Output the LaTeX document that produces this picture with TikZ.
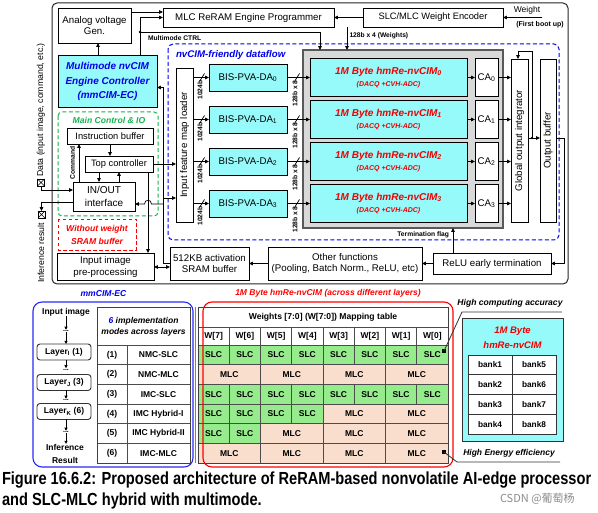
\documentclass[tikz,border=0pt]{standalone}
\usepackage{fontspec}
\setmainfont{Liberation Sans}
\newfontfamily\capfont[FakeStretch=0.835]{Liberation Sans}
\newfontfamily\wmfont{Noto Sans CJK SC}
\usetikzlibrary{arrows.meta,calc}
\newcommand\fsz[2]{\fontsize{#1}{#2}\selectfont}
\newcommand\busmark[1]{\draw[line width=0.7pt] ($(#1)+(-2.5,4)$) -- ($(#1)+(2.5,-4)$);}
\definecolor{cimcyan}{RGB}{150,250,250}
\definecolor{cimred}{RGB}{240,0,0}
\definecolor{dblue}{RGB}{0,0,235}
\definecolor{bblue}{RGB}{40,40,250}
\definecolor{dgreen}{RGB}{20,180,80}
\definecolor{gbox}{RGB}{217,217,217}
\definecolor{slcg}{RGB}{150,235,140}
\definecolor{mlcp}{RGB}{250,222,205}
\newcommand\tabcell[5]{%
 \pgfmathsetmacro\xa{198+31.25*#2}%
 \pgfmathsetmacro\xb{198+31.25*(#2+#3)}%
 \pgfmathsetmacro\ya{345+19.667*(#1-1)}%
 \pgfmathsetmacro\yb{345+19.667*#1}%
 \draw[cellline,fill=#4] (\xa,\ya) rectangle (\xb,\yb);
 \node[tt] (c#1-#2) at ({(\xa+\xb)/2},{(\ya+\yb)/2}) {#5};}
\newcommand\tslc[2]{\tabcell{#1}{#2}{1}{slcg}{SLC}}
\newcommand\tmlc[2]{\tabcell{#1}{#2}{2}{mlcp}{MLC}}
\begin{document}
\begin{tikzpicture}[x=1pt,y=-1pt,
 every node/.style={inner sep=0pt,outer sep=0pt},
 bx/.style={draw=black,line width=0.8pt,fill=white,align=center,font=\fsz{9.7}{11.5}},
 cybx/.style={bx,fill=cimcyan},
 arr/.style={line width=0.7pt,-{Triangle[length=3.8pt,width=3.4pt]}},
 arrs/.style={line width=0.8pt,-{Triangle[length=3pt,width=3pt]}},
 darr/.style={line width=0.7pt,{Triangle[length=3.8pt,width=3.4pt]}-{Triangle[length=3.8pt,width=3.4pt]}},
 lbl/.style={font=\bfseries\fsz{6.7}{7.5}},
 tt/.style={font=\bfseries\fsz{8.5}{10}},
 cellline/.style={draw=black!70,line width=0.6pt},
 rotl/.style={rotate=90,font=\fsz{9.7}{11}},
 lay/.style={draw=black!80,line width=0.9pt,rounded corners=3pt,fill=white,minimum width=54,minimum height=16,font=\bfseries\fsz{8.5}{10}},
 dts/.style={font=\bfseries\fsz{7}{8},text height=1.5pt,text depth=0pt,inner sep=0.5pt},
 xbox/.style={draw,line width=0.7pt,minimum size=7,fill=white},
]
\useasboundingbox (0,0) rectangle (598,513);
\fill[white] (0,0) rectangle (598,513);

% outer frame
\draw[line width=1pt,black!85,rounded corners=5pt] (52,3) rectangle (568,284);

% top row
\node[bx,minimum width=73,minimum height=35] (avg) at (94.5,25.5) {Analog voltage\\Gen.};
\node[bx,minimum width=171,minimum height=19] (prog) at (248.5,17.5) {MLC ReRAM Engine Programmer};
\node[bx,minimum width=140,minimum height=19,font=\fsz{9.3}{11}] (enc) at (433,17.5) {SLC/MLC Weight Encoder};
\node[font=\fsz{8.5}{10}] (wt) at (527,10) {Weight};
\node[lbl,font=\bfseries\fsz{7}{8}] (fbu) at (540,24.5) {(First boot up)};
\coordinate (win) at (542,17.5);
\draw[arr] (win) -- (enc.east);
\draw[arr] (enc.west) -- (prog.east);

% controller
\node[cybx,minimum width=99,minimum height=52,text=dblue,font=\bfseries\itshape\fsz{10}{14.5}] (ctrl) at (107.5,81.5) {Multimode nvCIM\\Engine Controller\\(mmCIM-EC)};
\coordinate (c1) at ($(ctrl.north)+(-9.5,0)$);
\draw[arr] (c1) -- (c1 |- avg.south);
\coordinate (c2) at ($(avg.north east)+(0,4)$);
\draw[arr] (c2) -- (c2 -| prog.west);

% nvCIM dataflow region
\draw[dblue,line width=1pt,dash pattern=on 4pt off 2.5pt,rounded corners=5pt] (168,44) rectangle (559,240);
\node[anchor=west,text=dblue,font=\bfseries\itshape\fsz{9.7}{11}] (nvl) at (176,54.5) {nvCIM-friendly dataflow};

\node[bx,minimum width=17,minimum height=154] (loader) at (184.5,145) {};
\node[rotl] (loadert) at (loader.center) {Input feature map loader};

\node[draw=black!65,line width=1.4pt,fill=gbox,minimum width=200,minimum height=178] (gray) at (403,139) {};

\node[bx,minimum width=17,minimum height=163] (integ) at (519.5,140.5) {};
\node[rotl] (integt) at (integ.center) {Global output integrator};
\node[bx,minimum width=16,minimum height=163] (obuf) at (548,140.5) {};
\node[rotl] (obuft) at (obuf.center) {Output buffer};

\foreach \i/\yy in {0/77.5,1/119.5,2/161.5,3/203.5} {
 \node[cybx,minimum width=78,minimum height=27] (da\i) at (248,\yy) {BIS-PVA-DA\textsubscript{\i}};
 \node[cybx,minimum width=157,minimum height=38,text=cimred,font=\bfseries\itshape\fsz{10}{12}] (cim\i) at (388.5,\yy) {1M Byte hmRe-nvCIM\textsubscript{\i}\\{\fsz{7}{8}(DACQ +CVH-ADC)}};
 \node[bx,minimum width=23,minimum height=38] (ca\i) at (486.5,\yy) {CA\textsubscript{\i}};
 \draw[arr] (loader.east |- da\i.west) -- (da\i.west);
 \coordinate (s\i) at ($(loader.east |- da\i.west)+(9,0)$);
 \busmark{s\i}
 \node[lbl,rotate=90] (lb\i) at ($(s\i)+(-2,12.5)$) {1024b};
 \draw[arr] (da\i.east) -- (cim\i.west);
 \coordinate (t\i) at ($(da\i.east)+(10,0)$);
 \busmark{t\i}
 \node[lbl,rotate=90] (lc\i) at ($(t\i)+(-2,16)$) {128b x 8};
 \draw[arr] (cim\i.east) -- (ca\i.west);
 \draw[arr] (ca\i.east) -- (integ.west |- ca\i.east);
}

% multimode ctrl & weights
\coordinate (j1) at (140,32);
\coordinate (j2) at (320,32);
\draw[arr] (ctrl.north -| j1) |- (prog.west);
\draw[arr] (j1) -- (j2) -- (j2 |- gray.north);
\fill (j1) circle (1.3);
\node[lbl,anchor=west] (mct) at (148,38.5) {Multimode CTRL};
\coordinate (j3) at (347,27);
\draw[arr] (j3 |- prog.south) -- (j3 |- gray.north);
\node[lbl,anchor=west] (w4) at (349.5,36) {128b x 4 (Weights)};

% integrator feedback
\coordinate (ib) at ($(integ.east)+(0,-2.5)$);
\coordinate (fbt) at (532,51);
\coordinate (fbl) at (518,51);
\draw[arr] (ib) -- (ib -| obuf.west);
\draw[arr] (ib -| fbt) -- (fbt) -- (fbl) -- (fbl |- integ.north);
\fill (ib -| fbt) circle (1.3);

% bottom row of main block
\node[bx,minimum width=97,minimum height=27,font=\fsz{9.7}{12}] (pre) at (105.5,266.5) {Input image\\pre-processing};
\node[bx,minimum width=79,minimum height=33] (sram) at (209.5,263.5) {512KB activation\\SRAM buffer};
\node[bx,minimum width=154,minimum height=33] (other) at (345,263.5) {Other functions\\(Pooling, Batch Norm., ReLU, etc)};
\node[bx,minimum width=118,minimum height=21] (relu) at (492,263.5) {ReLU early termination};
\draw[arr] (other.west) -- (sram.east);
\draw[arr] (relu.west) -- (other.east);
\coordinate (ob) at ($(obuf.east)+(0,-2.5)$);
\coordinate (rx) at (564,0);
\draw[arr] (ob) -- (ob -| rx) |- (relu.east);
\coordinate (tf) at (453,0);
\draw[arr] (tf |- relu.north) -- (tf |- gray.south);
\node[lbl,anchor=east] (tfl) at (449,234.5) {Termination flag};

% main control & IO
\draw[dgreen,line width=1pt,dash pattern=on 4pt off 2.5pt,rounded corners=4pt] (58,112) rectangle (158,216);
\node[text=dgreen,font=\bfseries\itshape\fsz{8.6}{10}] (mcio) at (109,120.5) {Main Control \& IO};
\node[bx,minimum width=86,minimum height=16,font=\fsz{9.3}{11}] (ibuf) at (110,136) {Instruction buffer};
\node[bx,minimum width=68,minimum height=16,font=\fsz{9.3}{11}] (topc) at (119,164) {Top controller};
\node[bx,minimum width=62,minimum height=29,font=\fsz{10}{13}] (io) at (104,196.5) {IN/OUT\\interface};
\draw[arr] (ibuf.south) -- (ibuf.south |- topc.north);
\coordinate (cm) at (79,0);
\draw[arr] (cm |- io.north) -- (cm |- ibuf.south);
\node[lbl,rotate=90] (cmd) at (72.5,163) {Command};
\coordinate (td) at (99,0);
\draw[arr] (td |- topc.south) -- (td |- io.north);
\coordinate (tu) at (119,0);
\draw[arr] (tu |- io.north) -- (tu |- topc.south);
\draw[arr] (topc.east) -- (topc.east -| loader.west);
\coordinate (tp) at (148,0);
\draw[arr] (tp |- topc.south) -- (tp |- pre.north);

% bus
\coordinate (busx) at (163,0);
\coordinate (ce) at ($(ctrl.east)+(0,6)$);
\draw[arr] (sram.west) -| (busx |- ce) -- (ce);
\coordinate (lbw) at ($(loader.west)+(0,53)$);
\draw[arr] (busx |- lbw) -- (lbw);
\coordinate (ie) at ($(io.east)+(0,7.5)$);
\draw[arr] (busx |- ie) -- (151.5,204) .. controls (151.5,199) and (144.5,199) .. (144.5,204) -- (ie);
\coordinate (ps) at ($(pre.east)+(0,0.5)$);
\draw[darr] (ps) -- (ps -| sram.west);

% external IO
\node[xbox] (din) at (41,182.5) {};
\draw[line width=0.6pt] (din.north west) -- (din.south east) (din.north east) -- (din.south west);
\node[xbox] (dout) at (41.5,214.5) {};
\draw[line width=0.6pt] (dout.north west) -- (dout.south east) (dout.north east) -- (dout.south west);
\node[rotate=90,font=\fsz{8.7}{10}] (dlabel) at (41,110) {Data (input image, command, etc.)};
\node[rotate=90,font=\fsz{8.7}{10}] (irlabel) at (41,253) {Inference result};
\coordinate (iwin) at ($(io.west)+(0,-6.5)$);
\draw[arr] (din.south) |- (iwin);
\coordinate (iwout) at ($(io.west)+(0,5.5)$);
\draw[arr] (iwout) -| (dout.north);

% without weight SRAM
\draw[red,line width=0.9pt,dash pattern=on 3.5pt off 2.5pt] (58,219) rectangle (136,250);
\node[text=red,align=center,font=\bfseries\itshape\fsz{8.6}{13}] (nows) at (97,235) {Without weight\\SRAM buffer};

% ===== bottom part =====
\node[text=dblue,font=\bfseries\itshape\fsz{8.6}{10}] (mmlab) at (103.5,293.5) {mmCIM-EC};
\node[text=red,font=\bfseries\itshape\fsz{8.5}{10}] (cimlab) at (328,293.5) {1M Byte hmRe-nvCIM (across different layers)};

% left table
\draw[cellline,fill=white] (97,307) rectangle (190,345);
\node[align=center,font=\bfseries\itshape\fsz{8.5}{11.5}] (hdr6) at (143.5,327) {\textcolor{dblue}{6} implementation\\modes across layers};
\foreach \r/\m in {1/NMC-SLC,2/NMC-MLC,3/IMC-SLC,4/IMC Hybrid-I,5/IMC Hybrid-II,6/IMC-MLC} {
 \pgfmathsetmacro\ya{345+19.667*(\r-1)}
 \pgfmathsetmacro\yb{345+19.667*\r}
 \draw[cellline,fill=white] (97,\ya) rectangle (127,\yb);
 \draw[cellline,fill=white] (127,\ya) rectangle (190,\yb);
 \node[tt] (n\r) at (112,{(\ya+\yb)/2}) {(\r)};
 \node[tt] (m\r) at (158.5,{(\ya+\yb)/2}) {\m};
}
% right table
\draw[cellline,fill=white] (198,307) rectangle (448,327);
\node[font=\bfseries\fsz{8.6}{10}] (whdr) at (323,317) {Weights [7:0] (W[7:0]) Mapping table};
\foreach \k in {0,...,7} {
 \pgfmathsetmacro\xa{198+31.25*\k}
 \pgfmathsetmacro\xb{198+31.25*(\k+1)}
 \pgfmathtruncatemacro\w{7-\k}
 \draw[cellline,fill=white] (\xa,327) rectangle (\xb,345);
 \node[tt] (wh\k) at ({(\xa+\xb)/2},336) {W[\w]};
}
\foreach \k in {0,...,7} {\tslc{1}{\k}}
\foreach \k in {0,2,4,6} {\tmlc{2}{\k}}
\foreach \k in {0,...,7} {\tslc{3}{\k}}
\foreach \k in {0,...,3} {\tslc{4}{\k}}
\tmlc{4}{4}\tmlc{4}{6}
\tslc{5}{0}\tslc{5}{1}\tmlc{5}{2}\tmlc{5}{4}\tmlc{5}{6}
\foreach \k in {0,2,4,6} {\tmlc{6}{\k}}
\draw[black!75,line width=0.9pt] (97,307) rectangle (190,463);
\draw[black!75,line width=0.9pt] (198,307) rectangle (448,463);
\draw[black!50,line width=0.6pt] (195,307) -- (195,463);

% layer flow
\node[font=\bfseries\fsz{8.5}{10}] (inimg) at (66,312) {Input image};
\node[dts] (d1) at (66,331) {...};
\node[lay] (lI) at (64,352) {Layer\textsubscript{I} (1)};
\node[dts] (d2) at (66,369.5) {...};
\node[lay] (lJ) at (64,382.5) {Layer\textsubscript{J} (3)};
\node[dts] (d3) at (66,400) {...};
\node[lay] (lK) at (64,411.5) {Layer\textsubscript{K} (6)};
\node[dts] (d4) at (66,432) {...};
\node[align=center,font=\bfseries\fsz{8.5}{13}] (inf) at (65,453.5) {Inference\\Result};
\draw[arrs] (inimg) -- (d1);
\draw[arrs] (d1) -- (lI.north -| d1);
\draw[arrs] (lI.south -| d2) -- (d2);
\draw[arrs] (lJ.south -| d3) -- (d3);
\draw[arrs] (lK.south -| d4) -- (d4);
\draw[arrs] (d4) -- (inf.north -| d4);

% group frames
\draw[bblue,line width=1.1pt,rounded corners=9pt] (33,302) rectangle (193,467);
\draw[red,line width=1.1pt,rounded corners=9pt] (203,302) rectangle (453,467);

% right annotations
\node[font=\bfseries\itshape\fsz{8.6}{10}] (hca) at (510,303) {High computing accuracy};
\node[font=\bfseries\itshape\fsz{8.5}{10}] (hee) at (509,453) {High Energy efficiency};
\node[fill=black,minimum size=3.5] (mk1) at (444,351) {};
\node[fill=black,minimum size=3.5] (mk2) at (444,452) {};
\coordinate (u1) at (462,312);
\coordinate (u1e) at (562,312);
\draw[line width=0.8pt,black!80] (mk1.center) -- (u1) -- (u1e);
\coordinate (u2) at (457,462);
\coordinate (u2e) at (560,462);
\draw[line width=0.8pt,black!80] (mk2.center) -- (u2) -- (u2e);

\node[draw=black!80,line width=1pt,fill=cimcyan,minimum width=101,minimum height=123] (bigc) at (512.5,380.5) {};
\node[text=cimred,font=\bfseries\itshape\fsz{9.5}{11}] (bigt1) at (512.5,331) {1M Byte};
\node[text=cimred,font=\bfseries\itshape\fsz{9.5}{11}] (bigt2) at (512.5,345) {hmRe-nvCIM};
\foreach \r/\a/\b in {0/1/5,1/2/6,2/3/7,3/4/8} {
 \pgfmathsetmacro\ya{355+19.75*\r}
 \pgfmathsetmacro\yb{355+19.75*(\r+1)}
 \draw[draw=black!80,line width=0.7pt,fill=white] (468,\ya) rectangle (512,\yb);
 \draw[draw=black!80,line width=0.7pt,fill=white] (512,\ya) rectangle (556,\yb);
 \node[font=\bfseries\fsz{8.3}{10}] (bk\a) at (490,{(\ya+\yb)/2}) {bank\a};
 \node[font=\bfseries\fsz{8.3}{10}] (bk\b) at (534,{(\ya+\yb)/2}) {bank\b};
}

% caption
\node[anchor=base west,font=\capfont\bfseries\fsz{17.5}{20}] (cap1) at (2,484.5) {Figure 16.6.2: Proposed architecture of ReRAM-based nonvolatile AI-edge processor};
\node[anchor=base west,font=\capfont\bfseries\fsz{17.5}{20}] (cap2) at (2,506) {and SLC-MLC hybrid with multimode.};
\node[anchor=base west,text=black!45,font=\wmfont\fsz{11}{12}] (wm) at (500,503) {CSDN @葡萄杨};
\end{tikzpicture}
\end{document}
